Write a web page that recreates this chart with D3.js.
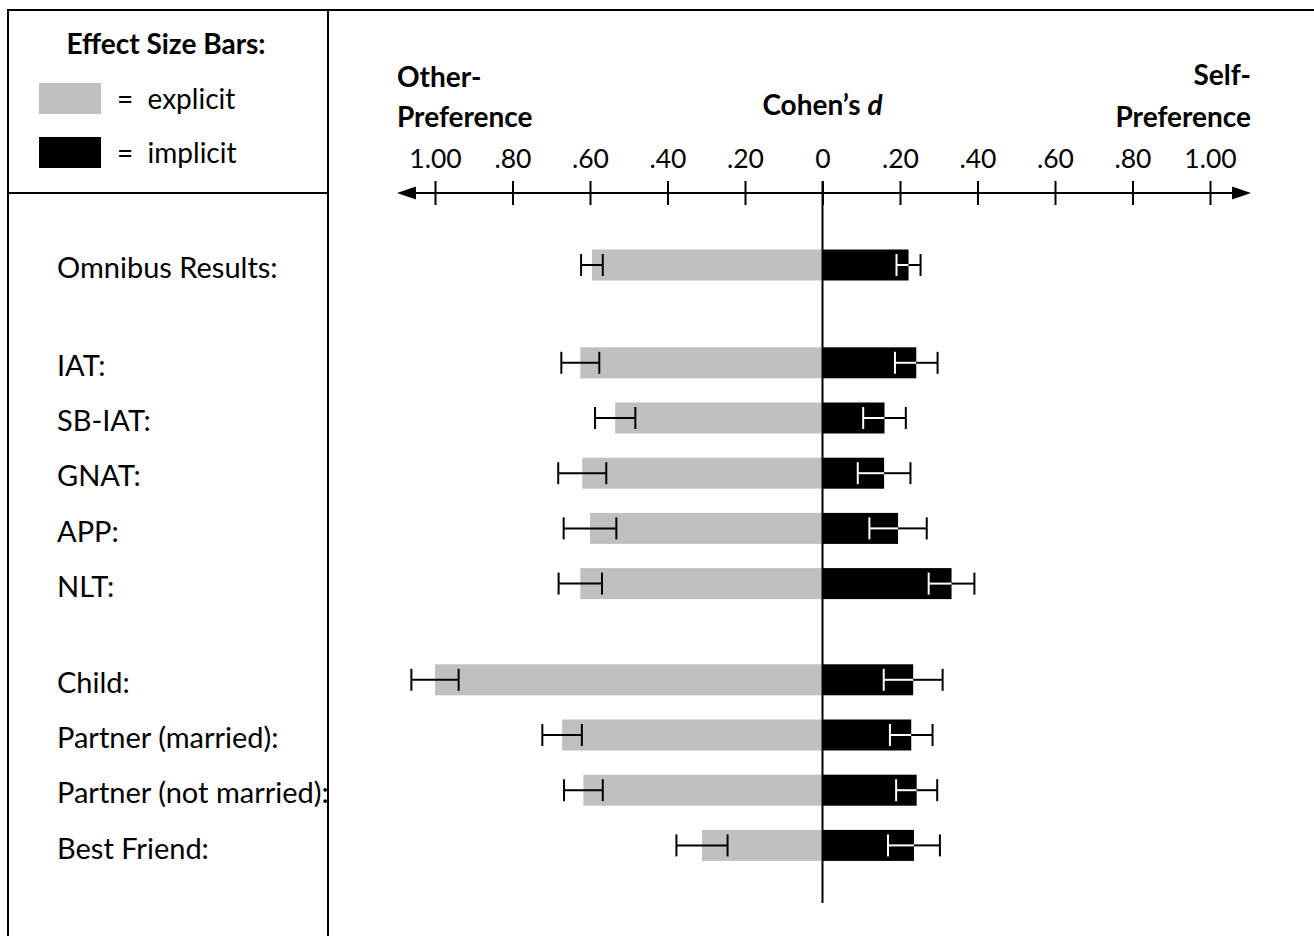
<!DOCTYPE html>
<html>
<head>
<meta charset="utf-8">
<script src="https://cdn.jsdelivr.net/npm/d3@7"></script>
<style>
  html, body { margin: 0; padding: 0; background: #fff; }
  svg { display: block; }
  text { font-family: Lato, "Open Sans", sans-serif; fill: #000; }
</style>
</head>
<body>
<svg id="chart" width="1314" height="936"></svg>
<script>
// Effect sizes (Cohen's d) for self- vs. other-preference
const categories = ["Omnibus Results:", "IAT:", "SB-IAT:", "GNAT:", "APP:", "NLT:",
                    "Child:", "Partner (married):", "Partner (not married):", "Best Friend:"];
// group membership of each row (omnibus / measure type / relationship)
const groups = [0, 1, 1, 1, 1, 1, 2, 2, 2, 2];
// explicit effects point toward other-preference (drawn to the left)
const explicitD   = [0.595, 0.625, 0.535, 0.620, 0.600, 0.625, 1.000, 0.672, 0.617, 0.311];
const explicitErr = [0.028, 0.049, 0.052, 0.062, 0.068, 0.056, 0.061, 0.051, 0.050, 0.066];
// implicit effects point toward self-preference (drawn to the right)
const implicitD   = [0.222, 0.242, 0.160, 0.159, 0.195, 0.333, 0.234, 0.229, 0.243, 0.236];
const implicitErr = [0.031, 0.055, 0.055, 0.068, 0.074, 0.059, 0.076, 0.055, 0.053, 0.067];
// axis ticks: signed position and printed label
const tickValues = [-1, -0.8, -0.6, -0.4, -0.2, 0, 0.2, 0.4, 0.6, 0.8, 1];
const tickLabels = ["1.00", ".80", ".60", ".40", ".20", "0", ".20", ".40", ".60", ".80", "1.00"];
const legendItems = ["= explicit", "= implicit"];

const GRAY = "#c0c0c0";
const LABEL_SIZE = 29, BOLD_SIZE = 28, TICK_SIZE = 26.5;
const svg = d3.select("#chart");

// ---- frame ----
const frame = svg.append("g").attr("stroke", "#000").attr("stroke-width", 2);
frame.append("line").attr("x1", 8).attr("x2", 1314).attr("y1", 10).attr("y2", 10);
frame.append("line").attr("x1", 8).attr("x2", 8).attr("y1", 9).attr("y2", 936);
frame.append("line").attr("x1", 328).attr("x2", 328).attr("y1", 9).attr("y2", 936);
frame.append("line").attr("x1", 8).attr("x2", 328).attr("y1", 193).attr("y2", 193);

// ---- legend ----
const legend = svg.append("g");
legend.append("text").attr("x", 166).attr("y", 54).attr("text-anchor", "middle")
  .attr("font-weight", "bold").attr("font-size", BOLD_SIZE).text("Effect Size Bars:");
legend.selectAll("rect.sw").data(legendItems).join("rect").attr("class", "sw")
  .attr("x", 39).attr("y", (d, i) => 83 + i * 54).attr("width", 62).attr("height", 31)
  .attr("fill", (d, i) => i === 0 ? GRAY : "#000");
legend.selectAll("text.lab").data(legendItems).join("text").attr("class", "lab")
  .attr("x", 117).attr("y", (d, i) => 109 + i * 54).attr("font-size", 28)
  .attr("xml:space", "preserve").text(d => d.replace("= ", "=  "));

// ---- scales ----
const x = d3.scaleLinear().domain([-1, 1]).range([435, 1210]);
const step = 55.2, groupGap = [0, 42.6, 41];
const slotY = categories.map((c, i) => {
  let extra = 0;
  for (let g = 1; g <= groups[i]; g++) extra += groupGap[g];
  return 265 + i * step + extra;
});
const y = d3.scaleOrdinal().domain(categories).range(slotY);
const barH = 31;

// ---- axis ----
const axisY = 193;
const axis = d3.axisBottom(x).tickValues(tickValues)
  .tickFormat((d, i) => tickLabels[i]).tickSize(12);
const ax = svg.append("g").attr("transform", `translate(0,${axisY})`).call(axis);
ax.select(".domain").remove();
ax.selectAll(".tick line").attr("y1", -12).attr("y2", 12)
  .attr("stroke", "#000").attr("stroke-width", 2);
ax.selectAll(".tick text").attr("y", -25).attr("dy", 0)
  .attr("font-size", TICK_SIZE).attr("font-family", "Lato, sans-serif").attr("fill", "#000");
ax.append("line").attr("x1", 405).attr("x2", 1240).attr("stroke", "#000").attr("stroke-width", 2);
ax.append("path").attr("d", "M397,0 L416,-6.5 L416,6.5 Z").attr("fill", "#000");
ax.append("path").attr("d", "M1251,0 L1232,-6.5 L1232,6.5 Z").attr("fill", "#000");

// ---- header titles ----
const head = svg.append("g").attr("font-weight", "bold").attr("font-size", BOLD_SIZE);
head.append("text").attr("x", 397).attr("y", 87).text("Other-");
head.append("text").attr("x", 397).attr("y", 127).text("Preference");
head.append("text").attr("x", 1251).attr("y", 85).attr("text-anchor", "end").text("Self-");
head.append("text").attr("x", 1251).attr("y", 127).attr("text-anchor", "end").text("Preference");
const coh = head.append("text").attr("x", x(0)).attr("y", 115).attr("text-anchor", "middle");
coh.append("tspan").text("Cohen\u2019s ");
coh.append("tspan").attr("font-style", "italic").text("d");

// ---- row labels ----
svg.append("g").selectAll("text").data(categories).join("text")
  .attr("x", 57).attr("y", d => y(d) + 3).attr("dy", "0.35em")
  .attr("font-size", LABEL_SIZE).text(d => d);

// ---- bars ----
const rows = categories.map((c, i) => ({
  c, ex: explicitD[i], exE: explicitErr[i], im: implicitD[i], imE: implicitErr[i]
}));
const bars = svg.append("g");
bars.selectAll("rect.ex").data(rows).join("rect").attr("class", "ex")
  .attr("x", d => x(-d.ex)).attr("width", d => x(0) - x(-d.ex))
  .attr("y", d => y(d.c) - barH / 2).attr("height", barH).attr("fill", GRAY);
bars.selectAll("rect.im").data(rows).join("rect").attr("class", "im")
  .attr("x", x(0)).attr("width", d => x(d.im) - x(0))
  .attr("y", d => y(d.c) - barH / 2).attr("height", barH).attr("fill", "#000");

// ---- zero line ----
svg.append("line").attr("x1", x(0)).attr("x2", x(0)).attr("y1", axisY - 12).attr("y2", 903)
  .attr("stroke", "#000").attr("stroke-width", 2);

// ---- error bars ----
const capH = 11;
const err = svg.append("g").attr("stroke-width", 2);
function segment(g, x1, x2, yy, color) {
  g.append("line").attr("x1", x1).attr("x2", x2).attr("y1", yy).attr("y2", yy).attr("stroke", color);
}
function cap(g, xx, yy, color) {
  g.append("line").attr("x1", xx).attr("x2", xx).attr("y1", yy - capH).attr("y2", yy + capH).attr("stroke", color);
}
rows.forEach(d => {
  const yy = y(d.c);
  // explicit: whole bar black over the gray
  const lo = x(-(d.ex + d.exE)), hi = x(-(d.ex - d.exE));
  segment(err, lo, hi, yy, "#000");
  cap(err, lo, yy, "#000");
  cap(err, hi, yy, "#000");
  // implicit: portion inside the black bar drawn white
  const ilo = x(d.im - d.imE), iend = x(d.im), ihi = x(d.im + d.imE);
  segment(err, ilo, iend, yy, "#fff");
  segment(err, iend, ihi, yy, "#000");
  cap(err, ilo, yy, "#fff");
  cap(err, ihi, yy, "#000");
});
</script>
</body>
</html>
